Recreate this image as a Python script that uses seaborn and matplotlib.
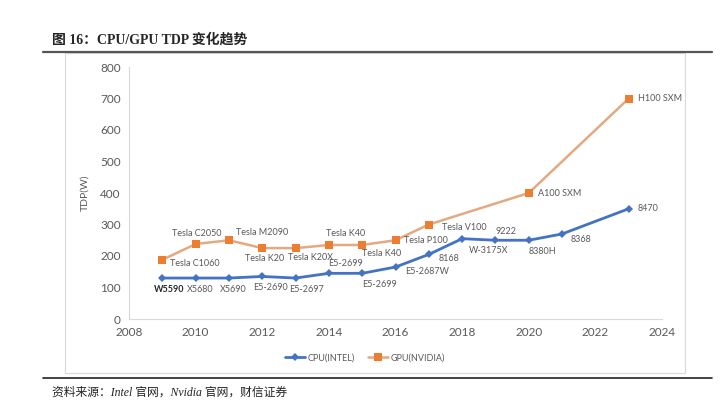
import matplotlib
matplotlib.use("Agg")
import matplotlib.pyplot as plt
from matplotlib.lines import Line2D
from matplotlib.patches import Rectangle
import pandas as pd
import seaborn as sns

# data
cpu_years = [2009, 2010, 2011, 2012, 2013, 2014, 2015, 2016, 2017, 2018, 2019, 2020, 2021, 2023]
cpu_tdp = [130, 130, 130, 135, 130, 145, 145, 165, 205, 255, 250, 250, 270, 350]
cpu_names = ["W5590", "X5680", "X5690", "E5-2690", "E5-2697", "E5-2699", "E5-2699",
             "E5-2687W", "8168", "W-3175X", "9222", "8380H", "8368", "8470"]

gpu_years = [2009, 2010, 2011, 2012, 2013, 2014, 2015, 2016, 2017, 2020, 2023]
gpu_tdp = [188, 238, 250, 225, 225, 235, 235, 250, 300, 400, 700]
gpu_names = ["Tesla C1060", "Tesla C2050", "Tesla M2090", "Tesla K20", "Tesla K20X",
             "Tesla K40", "Tesla K40", "Tesla P100", "Tesla V100", "A100 SXM", "H100 SXM"]

x_ticks = [2008, 2010, 2012, 2014, 2016, 2018, 2020, 2022, 2024]
y_ticks = [0, 100, 200, 300, 400, 500, 600, 700, 800]

cpu_df = pd.DataFrame({"year": cpu_years, "tdp": cpu_tdp})
gpu_df = pd.DataFrame({"year": gpu_years, "tdp": gpu_tdp})

sns.set_style("white")
plt.rcParams["font.family"] = ["Lato", "DejaVu Sans"]

fig = plt.figure(figsize=(7.2, 4.12), dpi=100)
ax = fig.add_axes([129 / 720, 1 - 319 / 412, 533 / 720, 252 / 412])

sns.lineplot(data=cpu_df, x="year", y="tdp", ax=ax, color="#4472C4", lw=2.0,
             marker="D", markersize=4.5, markeredgewidth=0, label="CPU(INTEL)")
sns.lineplot(data=gpu_df, x="year", y="tdp", ax=ax, color="#E3AA82", lw=1.8,
             marker="s", markersize=6, markerfacecolor="#ED7D31", markeredgewidth=0,
             label="GPU(NVIDIA)")

ax.set_xlim(2008, 2024)
ax.set_ylim(0, 800)
ax.set_xticks(x_ticks)
ax.set_yticks(y_ticks)
ax.tick_params(length=0, labelsize=8.5, labelcolor="#595959", pad=6)
ax.set_xlabel("")
ax.set_ylabel("TDP(W)", fontsize=7.5, color="#595959", labelpad=8)
for s in ["top", "right"]:
    ax.spines[s].set_visible(False)
for s in ["left", "bottom"]:
    ax.spines[s].set_color("#D9D9D9")
    ax.spines[s].set_linewidth(0.8)
ax.patch.set_alpha(0)

# label offsets in pixels (dx, dy, ha)
cpu_off = [(7, -11, "center"), (5, -11, "center"), (4, -11, "center"), (8, -11, "center"),
           (11, -11, "center"), (17, 10, "center"), (17, -11, "center"), (32, -4, "center"),
           (20, -4, "center"), (26, -12, "center"), (11, 9, "center"), (14, -11, "center"),
           (19, -6, "center"), (9, 0, "left")]
gpu_off = [(33, -4, "center"), (1, 11, "center"), (33, 8, "center"), (2, -10, "center"),
           (15, -9, "center"), (17, 11, "center"), (19, -9, "center"), (9, 0, "left"),
           (36, -3, "center"), (9, 0, "left"), (9, 0, "left")]

for i, (x, y, name) in enumerate(zip(cpu_years, cpu_tdp, cpu_names)):
    dx, dy, ha = cpu_off[i]
    ax.annotate(name, (x, y), xytext=(dx, dy), textcoords="offset pixels",
                ha=ha, va="center", fontsize=6.5,
                color="#262626" if i == 0 else "#595959",
                fontweight="bold" if i == 0 else "normal")
for i, (x, y, name) in enumerate(zip(gpu_years, gpu_tdp, gpu_names)):
    dx, dy, ha = gpu_off[i]
    ax.annotate(name, (x, y), xytext=(dx, dy), textcoords="offset pixels",
                ha=ha, va="center", fontsize=6.5, color="#595959")

ax.get_legend().remove()
handles, labels = ax.get_legend_handles_labels()
fig.legend(handles, labels, loc="center", bbox_to_anchor=(365 / 720, 1 - 358 / 412),
           ncol=2, frameon=False, fontsize=6.5, labelcolor="#595959",
           handlelength=2.2, handletextpad=0.3, columnspacing=1.5)

# chart frame and report rules
fig.patches.append(Rectangle((65 / 720, 1 - 373 / 412), 620 / 720, 320 / 412,
                             transform=fig.transFigure, fill=False,
                             edgecolor="#D9D9D9", lw=0.8))
fig.add_artist(Line2D([43 / 720, 712 / 720], [1 - 52 / 412] * 2, color="#555555", lw=1.6))
fig.add_artist(Line2D([43 / 720, 712 / 720], [1 - 378 / 412] * 2, color="#222222", lw=1.2))

fig.text(52 / 720, 1 - 40 / 412, "图 16：CPU/GPU TDP 变化趋势", fontsize=10,
         fontweight="bold", va="center", ha="left",
         family=["Liberation Serif", "Noto Sans CJK SC"])
fig.text(52 / 720, 1 - 393 / 412, "资料来源：Intel 官网，Nvidia 官网，财信证券", fontsize=8.5,
         style="italic", va="center", ha="left", color="#222222",
         family=["Liberation Serif", "Noto Sans CJK SC"])

fig.savefig("out.png", dpi=100)
